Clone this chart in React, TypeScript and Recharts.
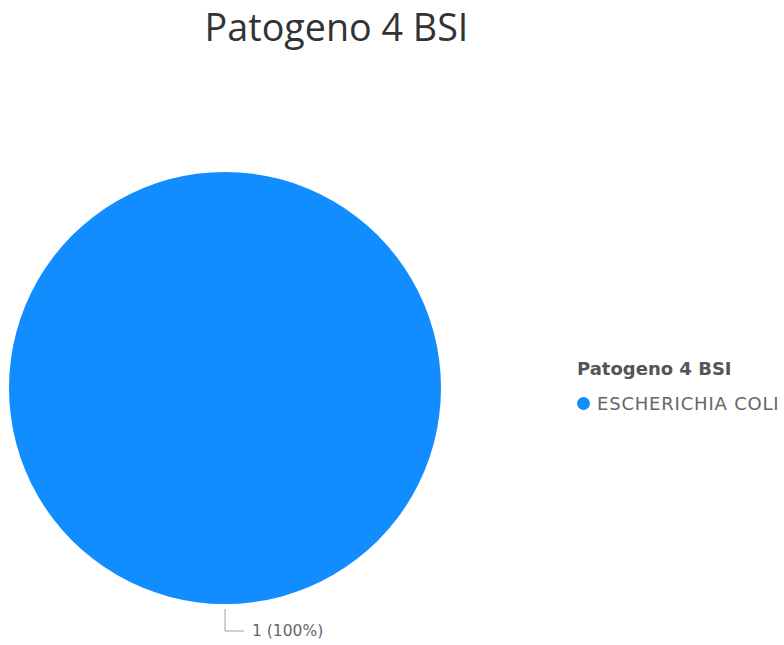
import { PieChart, Pie, Cell } from "recharts";

// pathogen counts
const categories = ["ESCHERICHIA COLI"];
const counts = [1];
const colors = ["#118DFF"];

const data = categories.map((name, i) => ({ name, value: counts[i] }));
const total = counts.reduce((a, b) => a + b, 0);

const RADIAN = Math.PI / 180;

const renderLabel = (props: any) => {
  const { cx, cy, outerRadius, midAngle, value } = props;
  const sin = Math.sin(-midAngle * RADIAN);
  const cos = Math.cos(-midAngle * RADIAN);
  const x0 = cx + outerRadius * cos;
  const y0 = cy + outerRadius * sin;
  const y1 = y0 + 27;
  const x2 = x0 + 19;
  const pct = Math.round((value / total) * 100);
  return (
    <g>
      <polyline points={`${x0},${y0 + 5} ${x0},${y1} ${x2},${y1}`} fill="none" stroke="#a0a0a0" strokeWidth={1} />
      <text x={x2 + 8} y={y1 + 5} fill="#666" fontSize={15.5} fontFamily="'DejaVu Sans', sans-serif">
        {`${value} (${pct}%)`}
      </text>
    </g>
  );
};

export default function App() {
  return (
    <div style={{ position: "absolute", left: 0, top: 0, width: 784, height: 645, background: "#fff" }}>
      <div
        style={{
          position: "absolute",
          left: 0,
          width: 673,
          top: 1,
          textAlign: "center",
          fontFamily: "'Open Sans', sans-serif",
          fontSize: 37.7,
          color: "#333",
          whiteSpace: "nowrap",
        }}
      >
        Patogeno 4 BSI
      </div>
      <PieChart width={784} height={645} margin={{ top: 0, right: 0, bottom: 0, left: 0 }}>
        <Pie
          data={data}
          dataKey="value"
          nameKey="name"
          cx={225}
          cy={388}
          outerRadius={216}
          startAngle={90}
          endAngle={-270}
          stroke="none"
          label={renderLabel}
          labelLine={false}
          isAnimationActive={false}
        >
          {data.map((d, i) => (
            <Cell key={d.name} fill={colors[i]} />
          ))}
        </Pie>
      </PieChart>
      <div style={{ position: "absolute", left: 577, top: 358, fontFamily: "'DejaVu Sans', sans-serif", whiteSpace: "nowrap" }}>
        <div style={{ fontWeight: 700, fontSize: 18, lineHeight: "21px", color: "#555", marginBottom: 14 }}>Patogeno 4 BSI</div>
        {data.map((d, i) => (
          <div
            key={d.name}
            style={{ display: "flex", alignItems: "center", fontSize: 18, lineHeight: "21px", letterSpacing: 0.8, color: "#666" }}
          >
            <span
              style={{
                width: 13,
                height: 13,
                flexShrink: 0,
                borderRadius: "50%",
                background: colors[i],
                display: "inline-block",
                marginRight: 7,
              }}
            />
            {d.name}
          </div>
        ))}
      </div>
    </div>
  );
}
